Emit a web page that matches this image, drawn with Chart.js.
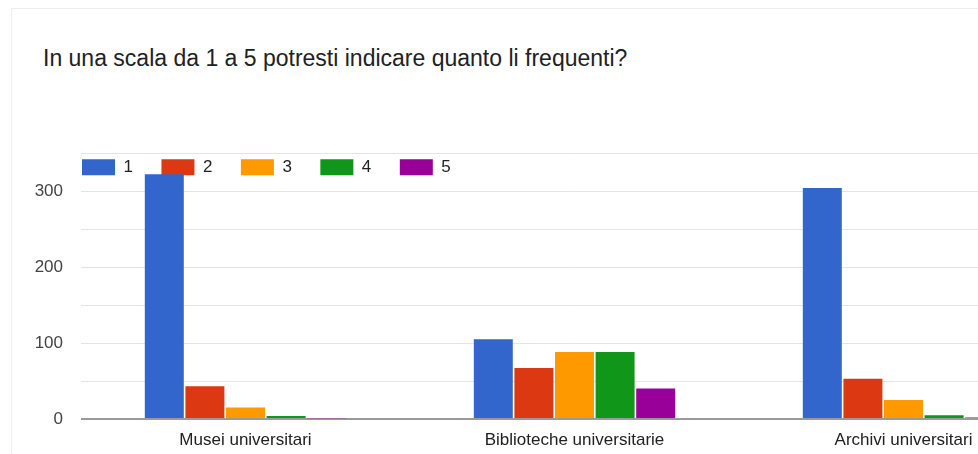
<!DOCTYPE html>
<html>
<head>
<meta charset="utf-8">
<script src="https://cdn.jsdelivr.net/npm/chart.js@4.4.1/dist/chart.umd.min.js"></script>
<style>
  html, body { margin: 0; padding: 0; background: #ffffff; overflow: hidden; width: 978px; height: 454px; }
  #card { position: absolute; left: 11px; top: 8px; width: 2000px; height: 2000px; border: 1px solid #efefef; box-sizing: border-box; }
  #title { position: absolute; left: 43px; top: 47px; font-family: "Liberation Sans", Arial, sans-serif; font-size: 23px; line-height: 23px; color: #202124; white-space: nowrap; }
  #c { position: absolute; left: 0; top: 0; }
</style>
</head>
<body>
<div id="card"></div>
<div id="title">In una scala da 1 a 5 potresti indicare quanto li frequenti?</div>
<canvas id="c" width="1070" height="454"></canvas>
<script>
const categories = ["Musei universitari", "Biblioteche universitarie", "Archivi universitari"];
const seriesNames = ["1", "2", "3", "4", "5"];
const series1 = [322, 105, 304];
const series2 = [43, 67, 53];
const series3 = [15, 88, 25];
const series4 = [4, 88, 5];
const series5 = [1, 40, 2];
const seriesColors = ["#3366cc", "#dc3912", "#ff9900", "#109618", "#990099"];
const yTickLabels = [0, 100, 200, 300];

const allSeries = [series1, series2, series3, series4, series5];

Chart.defaults.font.family = '"Liberation Sans", Arial, sans-serif';

const legendMover = {
  id: 'legendMover',
  afterLayout(chart) {
    const lg = chart.legend;
    if (!lg) return;
    const h = lg.bottom - lg.top, w = lg.right - lg.left;
    lg.top = 130.3; lg.bottom = lg.top + h;
    lg.left = 53.5; lg.right = lg.left + w;
  }
};

new Chart(document.getElementById('c'), {
  type: 'bar',
  data: {
    labels: categories,
    datasets: allSeries.map((vals, i) => ({
      label: seriesNames[i],
      data: vals,
      backgroundColor: seriesColors[i],
      borderWidth: 0,
      categoryPercentage: 0.617,
      barPercentage: 0.96
    }))
  },
  options: {
    responsive: false,
    animation: false,
    devicePixelRatio: 1,
    layout: { padding: { top: 97.5, bottom: 0, left: 0, right: 2 } },
    plugins: {
      title: { display: false },
      tooltip: { enabled: false },
      legend: {
        position: 'top',
        align: 'start',
        labels: {
          boxWidth: 33,
          boxHeight: 16,
          padding: 28.5,
          color: '#222222',
          font: { size: 17 }
        }
      }
    },
    scales: {
      x: {
        afterFit: (s) => { s.height = 35; },
        grid: { display: false, drawTicks: false },
        border: { display: false },
        ticks: { color: '#222222', font: { size: 17 }, padding: 11, maxRotation: 0 }
      },
      y: {
        min: 0,
        max: 350,
        afterFit: (s) => { s.width = 81; },
        border: { display: false },
        grid: {
          drawTicks: false,
          color: (ctx) => (ctx.tick && ctx.tick.value === 0) ? '#9a9a9a' : '#e4e4e4',
          lineWidth: (ctx) => (ctx.tick && ctx.tick.value === 0) ? 2 : 1
        },
        ticks: {
          stepSize: 50,
          padding: 18,
          color: '#444444',
          font: { size: 17 },
          callback: (v) => yTickLabels.includes(v) ? String(v) : ''
        }
      }
    }
  },
  plugins: [legendMover]
});
</script>
</body>
</html>
